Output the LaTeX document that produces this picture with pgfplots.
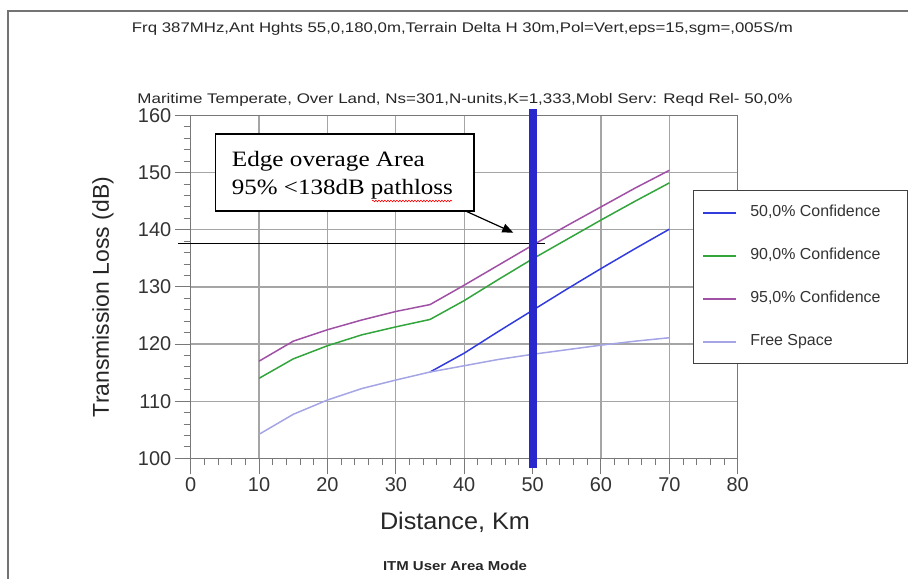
\documentclass[border=0pt]{standalone}
\usepackage{pgfplots}
\pgfplotsset{compat=1.18}
\usepackage{fontspec}
\setmainfont{Liberation Sans}
\newfontfamily\tnr{Liberation Serif}
\usetikzlibrary{decorations.pathmorphing,arrows.meta}
\definecolor{cfifty}{RGB}{50,60,220}
\definecolor{cninety}{RGB}{50,165,60}
\definecolor{cnfive}{RGB}{160,80,165}
\definecolor{cfree}{RGB}{165,165,230}
\definecolor{cbar}{RGB}{40,40,205}
\definecolor{gridc}{RGB}{165,165,165}
\definecolor{axc}{RGB}{120,120,120}
\definecolor{framec}{RGB}{115,115,115}
\begin{document}
\begin{tikzpicture}[x=1bp,y=1bp]
\path[use as bounding box] (0,0) rectangle (908,579);
\draw[line width=2.4bp, framec] (8,-10) -- (8,568) -- (930,568);
\begin{axis}[
  at={(190.7bp,120.7bp)}, anchor=south west,
  scale only axis, width=547bp, height=342.8bp,
  xmin=0, xmax=80, ymin=100, ymax=160,
  xtick={0,10,...,80}, ytick={100,110,...,160},
  minor x tick num=4, minor y tick num=4,
  tick pos=left, tick align=outside,
  major tick length=16bp, minor tick length=7bp,
  grid=major,
  major grid style={line width=1.3bp, gridc},
  axis line style={line width=1.3bp, axc},
  every tick/.style={line width=1bp, axc},
  tick label style={font=\fontsize{20}{24}\selectfont, black!80},
  /pgf/number format/assume math mode=true,
  clip=false,
  legend style={at={(0.9177,0.7827)}, anchor=north west,
    draw=black!75, line width=1.2bp, fill=white,
    font=\fontsize{16}{19}\selectfont, text=black!80,
    inner xsep=9bp, inner ysep=12bp, row sep=23bp,
    nodes={text height=12bp, text depth=4bp},
    /tikz/every odd column/.append style={column sep=11bp}},
  legend cell align=left,
  legend image code/.code={\draw[#1, line width=2bp] (0bp,0bp) -- (33bp,0bp);},
]
\addplot[draw=cfifty, line width=1.5bp] coordinates {(35,115.1) (40,118.4) (45,122.2) (50,125.9) (55,129.6) (60,133.2) (65,136.7) (70,140.1)};
\addlegendentry{\makebox[146bp][l]{50,0\% Confidence}}
\addplot[draw=cninety, line width=1.5bp] coordinates {(10,114.0) (15,117.4) (20,119.7) (25,121.6) (30,123.0) (35,124.3) (40,127.6) (45,131.3) (50,134.9) (55,138.3) (60,141.7) (65,145.0) (70,148.2)};
\addlegendentry{\makebox[146bp][l]{90,0\% Confidence}}
\addplot[draw=cnfive, line width=1.5bp] coordinates {(10,117.0) (15,120.5) (20,122.5) (25,124.2) (30,125.7) (35,126.9) (40,130.3) (45,133.8) (50,137.3) (55,140.7) (60,144.0) (65,147.3) (70,150.4)};
\addlegendentry{\makebox[146bp][l]{95,0\% Confidence}}
\addplot[draw=cfree, line width=1.5bp] coordinates {(10,104.2) (15,107.7) (20,110.2) (25,112.2) (30,113.7) (35,115.1) (40,116.2) (45,117.3) (50,118.2) (55,119.0) (60,119.8) (65,120.5) (70,121.1)};
\addlegendentry{\makebox[146bp][l]{Free Space}}
\addplot[draw=black, line width=1.2bp, forget plot] coordinates {(-1.8,137.6) (51.8,137.6)};
\addplot[draw=cbar, line width=8bp, forget plot] coordinates {(50,98.3) (50,161.1)};
\draw[black, line width=1.2bp, -{Triangle[length=11bp,width=9bp]}] (axis cs:39.87,143.46) -- (axis cs:47.18,139.49);
\end{axis}
% annotation box
\draw[fill=white, line width=1.2bp] (215.7,445) rectangle (474,368);
\node[anchor=base west, inner sep=0, font=\tnr\fontsize{22}{26}\selectfont] at (231.7,412.3) {\resizebox{193bp}{\height}{Edge overage Area}};
\node[anchor=base west, inner sep=0, font=\tnr\fontsize{22}{26}\selectfont] at (231.7,384) {\resizebox{221bp}{\height}{95\% <138dB pathloss}};
\draw[red, line width=0.6bp, decorate, decoration={snake, amplitude=0.8bp, segment length=3bp}] (372,378) -- (452,378);
% titles and labels
\node[font=\fontsize{14}{16}\selectfont, text=black!85] at (462.5,550) {\resizebox{661bp}{\height}{Frq 387MHz,Ant Hghts 55,0,180,0m,Terrain Delta H 30m,Pol=Vert,eps=15,sgm=,005S/m}};
\node[font=\fontsize{14}{16}\selectfont, text=black!85] at (465,479) {\resizebox{655bp}{\height}{Maritime Temperate, Over Land, Ns=301,N-units,K=1,333,Mobl Serv: Reqd Rel- 50,0\%}};
\node[font=\fontsize{24}{28}\selectfont, text=black!85] at (455,57) {\resizebox{150bp}{\height}{Distance, Km}};
\node[font=\fontsize{23}{28}\selectfont, text=black!85, rotate=90] at (103,282) {\resizebox{240bp}{\height}{Transmission Loss (dB)}};
\node[font=\bfseries\fontsize{13}{16}\selectfont, text=black!85] at (455,13) {\resizebox{144bp}{\height}{ITM User Area Mode}};
\end{tikzpicture}
\end{document}
